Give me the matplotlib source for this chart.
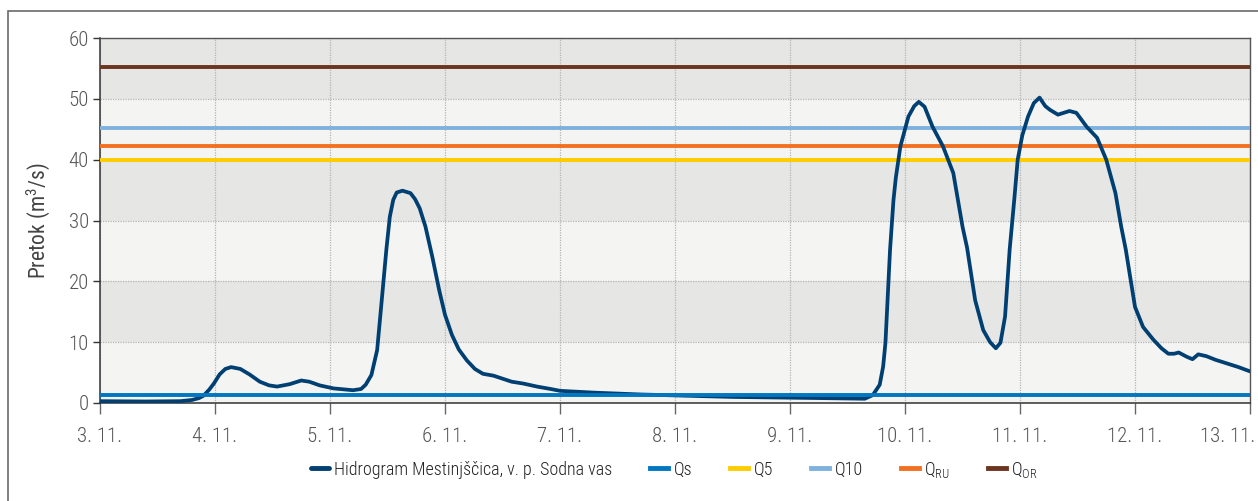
import matplotlib
matplotlib.use("Agg")
import matplotlib.pyplot as plt
import matplotlib.transforms as mtransforms
from matplotlib.patches import Rectangle
from matplotlib import font_manager

names = {f.name for f in font_manager.fontManager.ttflist}
fam = [n for n in ["Roboto Condensed", "Liberation Sans Narrow", "DejaVu Sans Condensed"] if n in names]
plt.rcParams['font.family'] = fam + ['Roboto', 'DejaVu Sans']
plt.rcParams['font.weight'] = 'light'

# ---- data ----
day_labels = ["3. 11.", "4. 11.", "5. 11.", "6. 11.", "7. 11.", "8. 11.",
              "9. 11.", "10. 11.", "11. 11.", "12. 11.", "13. 11."]
# time in days after 3. 11. 00:00
t = [0.0, 0.4, 0.7, 0.8, 0.86, 0.9, 0.95, 0.99, 1.04, 1.09, 1.14, 1.22, 1.3, 1.39,
     1.47, 1.54, 1.65, 1.75, 1.82, 1.91, 2.03, 2.2, 2.27, 2.31, 2.36, 2.41, 2.45,
     2.49, 2.52, 2.55, 2.58, 2.63, 2.7, 2.74, 2.78, 2.83, 2.89, 2.95, 3.0, 3.06,
     3.12, 3.19, 3.26, 3.33, 3.42, 3.5, 3.58, 3.68, 3.8, 3.92, 4.0, 4.3, 4.7, 5.1,
     5.5, 5.9, 6.3, 6.65, 6.72, 6.78, 6.81, 6.83, 6.87, 6.9, 6.92, 6.96, 7.03, 7.08,
     7.12, 7.17, 7.24, 7.33, 7.42, 7.46, 7.5, 7.54, 7.61, 7.68, 7.74, 7.79, 7.83,
     7.87, 7.91, 7.95, 7.98, 8.02, 8.07, 8.12, 8.17, 8.22, 8.26, 8.33, 8.43, 8.49,
     8.58, 8.67, 8.75, 8.83, 8.88, 8.92, 9.0, 9.07, 9.16, 9.23, 9.29, 9.34, 9.38,
     9.45, 9.5, 9.55, 9.62, 9.7, 9.8, 9.9, 10.0]
flow = [0.3, 0.25, 0.3, 0.5, 0.8, 1.2, 2.2, 3.2, 4.7, 5.6, 5.9, 5.6, 4.7, 3.5,
        2.9, 2.7, 3.1, 3.7, 3.5, 2.9, 2.4, 2.1, 2.3, 3.0, 4.6, 8.7, 16.9,
        25.2, 30.6, 33.4, 34.6, 34.9, 34.5, 33.5, 32.0, 29.0, 24.0, 18.5, 14.5, 11.2,
        8.8, 7.0, 5.6, 4.8, 4.5, 4.0, 3.5, 3.2, 2.7, 2.3, 2.0, 1.7, 1.4, 1.2,
        1.0, 0.9, 0.8, 0.7, 1.3, 3.0, 6.0, 9.9, 25.2, 33.4, 37.0, 42.2, 47.1, 48.8,
        49.5, 48.7, 45.4, 42.2, 37.8, 33.4, 29.0, 25.5, 16.9, 12.0, 10.0, 9.0, 9.9,
        14.2, 25.2, 33.4, 40.0, 44.0, 47.1, 49.3, 50.2, 48.8, 48.2, 47.4, 48.0, 47.7,
        45.4, 43.6, 40.0, 34.5, 29.0, 25.2, 15.8, 12.5, 10.4, 9.0, 8.1, 8.1, 8.3,
        7.6, 7.2, 8.0, 7.7, 7.1, 6.5, 5.9, 5.2]
hydro_label = "Hidrogram Mestinjščica, v. p. Sodna vas"

thr_names = ["Qs", "Q5", "Q10", r"Q$_\mathregular{RU}$", r"Q$_\mathregular{OR}$"]
thr_values = [1.3, 40.0, 45.2, 42.2, 55.2]
thr_colors = ["#0077c0", "#ffcc00", "#7eb1de", "#f37021", "#6b3520"]
hydro_color = "#003f72"

y_ticks = [0, 10, 20, 30, 40, 50, 60]

condensed = len(fam) > 0
fs_tick = 15 if condensed else 14
fs_leg = 13 if condensed else 12

# ---- figure ----
W, H = 1258, 501
fig = plt.figure(figsize=(W / 100, H / 100), dpi=100)
fig.patches.append(Rectangle((8 / W, -0.05), 1.2, 1 - 11 / H + 0.05,
                             transform=fig.transFigure, fill=False,
                             edgecolor="#6a6a6a", lw=1.2))
ax = fig.add_axes([100 / W, 1 - 403 / H, 1150 / W, 365 / H])

# alternating bands
for i, lo in enumerate(y_ticks[:-1]):
    ax.axhspan(lo, lo + 10, color="#f4f4f3" if i % 2 == 0 else "#e6e6e5",
               zorder=0, lw=0)

ax.grid(True, color="#b5b5b5", linestyle=(0, (1, 1)), lw=0.9, zorder=1)
ax.set_axisbelow(True)

lines = []
l, = ax.plot(t, flow, color=hydro_color, lw=2.7, zorder=5,
             solid_joinstyle="round", solid_capstyle="round", label=hydro_label)
lines.append(l)
zo = {"Qs": 6}
for name, v, c in zip(thr_names, thr_values, thr_colors):
    h = ax.axhline(v, color=c, lw=2.8, zorder=zo.get(name, 4), label=name)
    lines.append(h)

ax.set_xlim(0, 10)
ax.set_ylim(0, 60)
ax.set_xticks(range(len(day_labels)))
ax.set_xticklabels(day_labels)
ax.set_yticks(y_ticks)

for s in ["left", "bottom"]:
    ax.spines[s].set_color("#333333")
    ax.spines[s].set_linewidth(1.1)
for s in ["top", "right"]:
    ax.spines[s].set_color("#555555")
    ax.spines[s].set_linewidth(1.0)

ax.tick_params(axis="x", direction="out", length=8, width=1, color="#666666",
               labelsize=fs_tick, labelcolor="#555555", pad=9)
ax.tick_params(axis="y", direction="out", length=5, width=1, color="#333333",
               labelsize=fs_tick, labelcolor="#555555", pad=3)
# last date label sits flush with the right edge, as in the reference
last = ax.get_xticklabels()[-1]
last.set_horizontalalignment("right")
last.set_transform(last.get_transform() + mtransforms.ScaledTranslation(5 / 100, 0, fig.dpi_scale_trans))

ax.set_ylabel("Pretok (m$^\\mathregular{3}$/s)", fontsize=15.5, color="#444444",
              labelpad=12)

leg = fig.legend(handles=lines, loc="center", bbox_to_anchor=(0.536, 1 - 470 / H),
                 ncol=6, frameon=False, fontsize=fs_leg, handlelength=1.0,
                 handletextpad=0.3, columnspacing=2.1)
for txt in leg.get_texts():
    txt.set_color("#222222")
for lh in leg.get_lines():
    lh.set_linewidth(3.5)

fig.savefig("out.png", dpi=100)
